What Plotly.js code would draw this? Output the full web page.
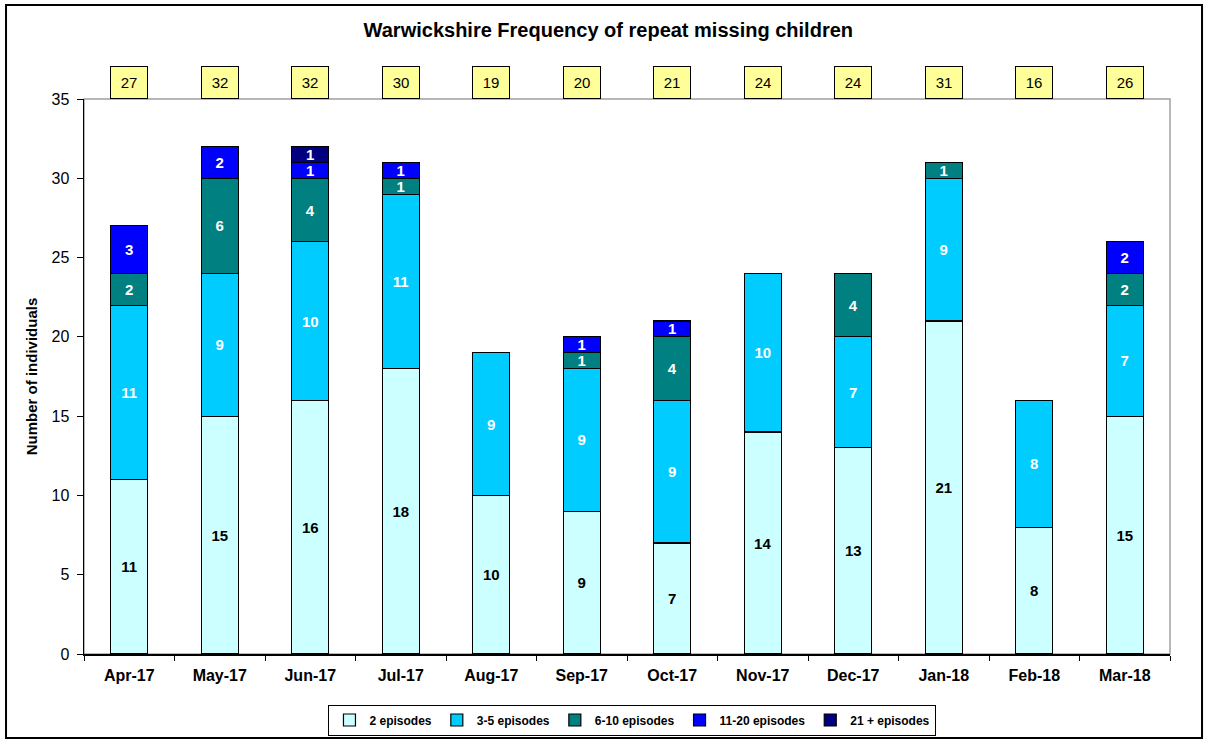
<!DOCTYPE html>
<html>
<head>
<meta charset="utf-8">
<script src="https://cdn.plot.ly/plotly-3.0.1.min.js"></script>
<style>
  html, body { margin: 0; padding: 0; background: #fff; }
  #chart { width: 1207px; height: 740px; }
</style>
</head>
<body>
<div id="chart"></div>
<script>
// Months on the x axis
const months = ["Apr-17", "May-17", "Jun-17", "Jul-17", "Aug-17", "Sep-17",
  "Oct-17", "Nov-17", "Dec-17", "Jan-18", "Feb-18", "Mar-18"];

// Individuals by number of missing episodes
const ep2 = [11, 15, 16, 18, 10, 9, 7, 14, 13, 21, 8, 15];
const ep3to5 = [11, 9, 10, 11, 9, 9, 9, 10, 7, 9, 8, 7];
const ep6to10 = [2, 6, 4, 1, 0, 1, 4, 0, 4, 1, 0, 2];
const ep11to20 = [3, 2, 1, 1, 0, 1, 1, 0, 0, 0, 0, 2];
const ep21plus = [0, 0, 1, 0, 0, 0, 0, 0, 0, 0, 0, 0];

// Numbers in the yellow boxes above the bars
const boxTotals = [27, 32, 32, 30, 19, 20, 21, 24, 24, 31, 16, 26];

const font = "Liberation Sans, Arial, sans-serif";

function makeTrace(name, values, color, textColor) {
  return {
    type: "bar",
    name: name,
    x: months,
    y: values.map((v) => (v > 0 ? v : null)),
    text: values.map((v) => (v > 0 ? String(v) : "")),
    textposition: "inside",
    insidetextanchor: "middle",
    textangle: 0,
    constraintext: "none",
    textfont: { family: font, size: 15, color: textColor, weight: "bold" },
    marker: { color: color, line: { color: "#000000", width: 1.2 } },
    width: 0.41,
    hoverinfo: "skip",
  };
}

const traces = [
  makeTrace("2 episodes", ep2, "#CCFFFF", "#000000"),
  makeTrace("3-5 episodes", ep3to5, "#00CCFF", "#FFFFFF"),
  makeTrace("6-10 episodes", ep6to10, "#008080", "#FFFFFF"),
  makeTrace("11-20 episodes", ep11to20, "#0000FF", "#FFFFFF"),
  makeTrace("21 + episodes", ep21plus, "#000080", "#FFFFFF"),
];

// Yellow boxes at the top
const boxes = months.map((m, i) => ({
  x: m,
  xref: "x",
  y: 1,
  yref: "paper",
  yanchor: "bottom",
  text: String(boxTotals[i]),
  showarrow: false,
  bgcolor: "#FFFF99",
  bordercolor: "#000000",
  borderwidth: 1,
  borderpad: 7,
  width: 22,
  font: { family: font, size: 15, color: "#000000" },
}));

const layout = {
  width: 1207,
  height: 740,
  margin: { l: 84, r: 37, t: 99, b: 86 },
  paper_bgcolor: "#FFFFFF",
  plot_bgcolor: "#FFFFFF",
  barmode: "stack",
  font: { family: font, size: 15, color: "#000000" },
  uniformtext: { mode: "show", minsize: 15 },
  title: {
    text: "Warwickshire Frequency of repeat missing children",
    font: { family: font, size: 20, color: "#000000", weight: "bold" },
    xref: "container",
    x: 0.504,
    xanchor: "center",
    yref: "container",
    y: 0.959,
    yanchor: "middle",
  },
  xaxis: {
    type: "category",
    showline: true,
    linecolor: "#000000",
    linewidth: 1.5,
    ticks: "outside",
    tickson: "boundaries",
    ticklen: 5,
    tickcolor: "#000000",
    ticklabelstandoff: 6,
    tickfont: { family: font, size: 16, color: "#000000", weight: "bold" },
    showgrid: false,
    zeroline: false,
    fixedrange: true,
  },
  yaxis: {
    range: [0, 35],
    dtick: 5,
    showline: true,
    linecolor: "#000000",
    linewidth: 1.5,
    ticks: "outside",
    ticklen: 6,
    tickcolor: "#000000",
    ticklabelstandoff: 4,
    tickfont: { family: font, size: 16, color: "#000000" },
    showgrid: false,
    zeroline: false,
    title: {
      text: "Number of individuals",
      font: { family: font, size: 15, color: "#000000", weight: "bold" },
      standoff: 10,
    },
    fixedrange: true,
  },
  legend: {
    orientation: "h",
    x: 0.524,
    xref: "container",
    xanchor: "center",
    y: 0.027,
    yref: "container",
    yanchor: "middle",
    traceorder: "normal",
    bordercolor: "#000000",
    borderwidth: 1,
    bgcolor: "#FFFFFF",
    font: { family: font, size: 12, color: "#000000", weight: "bold" },
    itemwidth: 30,
    tracegroupgap: 0,
  },
  annotations: boxes,
  shapes: [
    // grey frame round the plot area
    {
      type: "rect", xref: "paper", yref: "paper",
      x0: 0, x1: 1, y0: 0, y1: 1,
      line: { color: "#A0A0A0", width: 1.5 }, layer: "below",
    },
    // black frame round the whole chart
    {
      type: "rect", xref: "paper", yref: "paper",
      x0: -0.0718, x1: 1.0295, y0: -0.1514, y1: 1.1694,
      line: { color: "#000000", width: 2 },
    },
  ],
};

Plotly.newPlot("chart", traces, layout, { displayModeBar: false, staticPlot: true });
</script>
</body>
</html>
